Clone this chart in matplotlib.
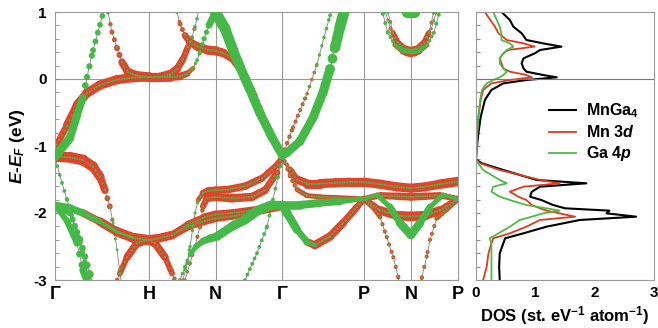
import numpy as np
import matplotlib
matplotlib.use('Agg')
import matplotlib.pyplot as plt
from matplotlib.collections import LineCollection
from matplotlib.ticker import MultipleLocator

plt.rcParams['font.family'] = ['Liberation Sans', 'DejaVu Sans']
plt.rcParams['font.weight'] = 'bold'
plt.rcParams['mathtext.fontset'] = 'custom'
plt.rcParams['mathtext.rm'] = 'Liberation Sans:bold'
plt.rcParams['mathtext.it'] = 'Liberation Sans:italic:bold'
plt.rcParams['mathtext.bf'] = 'Liberation Sans:bold'
plt.rcParams['axes.unicode_minus'] = False
plt.rcParams['lines.scale_dashes'] = False

# ---------------- high-symmetry path ----------------
kpath_labels = ['Γ', 'H', 'N', 'Γ', 'P', 'N', 'P']
kpath_pos = [0.0, 1.0, 1.7071, 2.4142, 3.2802, 3.7802, 4.2802]

# ---------------- bands: k, E, Mn-3d weight, Ga-4p weight ----------------
A_k = [0.0, 0.159, 0.234, 0.297, 0.340, 0.404, 0.478, 0.515]
A_E = [-1.16, -0.88, -0.54, -0.28, 0.03, 0.43, 0.81, 1.0]
A_r = [3, 2.5, 2, 1, 0, 0, 0, 0]
A_g = [7, 6.5, 6, 5.5, 5, 4.6, 4.4, 4.4]

B_k = [0.563, 0.605, 0.659, 0.712, 0.775, 0.871, 1.0, 1.115, 1.221, 1.296, 1.360, 1.413, 1.455, 1.487, 1.508, 1.522]
B_E = [1.0, 0.70, 0.46, 0.25, 0.10, 0.05, 0.03, 0.03, 0.07, 0.15, 0.30, 0.48, 0.62, 0.78, 0.9, 1.0]
B_r = [2.5, 2.8, 3.2, 4, 5, 5.5, 5.5, 5.5, 5, 4.5, 4, 3.5, 3, 2, 1.5, 1.5]
B_g = [1.5, 1.3, 1.3, 1.3, 1.3, 1.3, 1.3, 1.3, 1.3, 1.3, 1.3, 1.5, 2, 2.5, 2.5, 2.5]

D_k = [1.296, 1.328, 1.381, 1.434, 1.519, 1.625, 1.707, 1.784, 1.880, 1.965, 2.039, 2.124, 2.209, 2.315, 2.414]
D_E = [1.0, 0.82, 0.65, 0.55, 0.48, 0.43, 0.42, 0.39, 0.31, 0.15, 0.0, -0.25, -0.55, -0.9, -1.15]
D_r = [2, 2.5, 3.5, 4.5, 5, 5.5, 5.5, 5, 4.5, 4, 3.5, 3, 3, 2.5, 2.5]
D_g = [1.3] * 15

E_k = [0.0, 0.021, 0.127, 0.234, 0.340, 0.478, 0.659, 0.828, 1.0, 1.115, 1.221, 1.328, 1.402, 1.466, 1.508, 1.540, 1.583, 1.635, 1.700]
E_E = [-1.16, -0.98, -0.69, -0.39, -0.21, -0.09, -0.01, 0.02, 0.03, 0.03, 0.03, 0.04, 0.08, 0.16, 0.28, 0.40, 0.60, 0.80, 0.99]
E_r = [3, 3.5, 4.5, 5, 5.5, 5.5, 5.5, 5.5, 5.5, 5.5, 5, 4.5, 3.5, 2, 1, 0.5, 0, 0, 0]
E_g = [1.5, 1.5, 1.3, 1.3, 1.3, 1.3, 1.3, 1.3, 1.3, 1.3, 1.3, 1.3, 1.5, 2, 2.5, 3, 3.5, 4.5, 6]

W_k = [1.707, 1.806, 1.891, 1.965, 2.071, 2.177, 2.305, 2.414, 2.464, 2.602, 2.740, 2.847, 2.921, 2.974, 3.027, 3.070]
W_E = [0.99, 0.75, 0.43, 0.18, -0.16, -0.51, -0.87, -1.14, -1.1, -0.93, -0.58, -0.2, 0.15, 0.47, 0.78, 1.0]
W_r = [0] * 16
W_g = [9, 8.5, 8, 7.5, 7.5, 7, 7, 6.5, 6.5, 6.5, 7, 7, 7.5, 8, 8.5, 9]

X_k = [2.414, 2.528, 2.677, 2.783, 2.857, 2.921, 2.940]
X_E = [-1.15, -0.72, -0.22, 0.22, 0.62, 0.95, 1.0]
X_r = [2.8, 2.6, 2.4, 2.0, 1.0, 0, 0]
X_g = [1.3, 1.3, 1.5, 2.0, 2.5, 2.8, 2.8]

F_k = [0.0, 0.159, 0.297, 0.404, 0.478, 0.531, 0.584, 0.616, 0.659, 0.690, 0.700]
F_E = [-1.16, -1.17, -1.21, -1.31, -1.46, -1.66, -1.91, -2.15, -2.55, -2.9, -3.0]
F_r = [6, 6.5, 6.5, 6, 5, 4, 3, 2, 1, 0.5, 0.5]
F_g = [1.3, 1.3, 1.3, 1.3, 1.5, 1.5, 1.5, 2, 2, 2, 2]

G_k = [0.659, 0.690, 0.765, 0.871, 0.977, 1.0, 1.062, 1.168, 1.243, 1.275]
G_E = [-3.0, -2.9, -2.66, -2.45, -2.4, -2.4, -2.45, -2.66, -2.9, -3.0]
G_r = [2.5, 3, 4, 5, 5.5, 5.5, 5, 4, 3, 2.5]
G_g = [1.3] * 10

H_k = [0.0, 0.021, 0.159, 0.297, 0.478, 0.659, 0.828, 0.977, 1.0, 1.062, 1.243, 1.413, 1.593, 1.707, 1.880, 2.092, 2.262, 2.414]
H_E = [-1.9, -1.9, -1.93, -2.0, -2.13, -2.28, -2.37, -2.4, -2.4, -2.39, -2.33, -2.2, -2.12, -2.08, -2.05, -2.0, -1.95, -1.91]
H_r = [0, 0, 2, 4, 5, 5.5, 6, 6, 6, 5.5, 5, 4.5, 4.5, 4.5, 4, 4, 4, 4]
H_g = [7, 7, 6.5, 5, 3, 2, 1.5, 1.3, 1.3, 1.3, 1.3, 1.3, 1.3, 1.3, 1.3, 1.3, 1.3, 1.3]

I_k = [1.243, 1.413, 1.593, 1.707, 1.880, 2.092, 2.262, 2.414]
I_E = [-2.33, -2.17, -2.06, -2.02, -2.0, -1.96, -1.92, -1.9]
I_r = [4, 4, 4.5, 4.5, 4.5, 4.5, 4, 3.5]
I_g = [1.3] * 8

J1_k = [1.360, 1.402, 1.434, 1.466, 1.487, 1.519, 1.572, 1.625, 1.707, 1.837, 2.018, 2.199, 2.336, 2.414]
J1_E = [-3.0, -2.75, -2.5, -2.2, -2.0, -1.81, -1.7, -1.67, -1.66, -1.65, -1.6, -1.48, -1.31, -1.17]
J1_r = [0, 0, 0, 0, 1, 2, 3.5, 4.5, 4.5, 4.5, 4.5, 4, 3.5, 3]
J1_g = [2.5, 2.5, 2.5, 2.5, 2.3, 2, 1.5, 1.3, 1.3, 1.3, 1.3, 1.3, 1.3, 1.3]

J2_k = [1.381, 1.434, 1.487, 1.540, 1.572, 1.614, 1.699, 1.880, 2.092, 2.230, 2.358, 2.414]
J2_E = [-3.0, -2.75, -2.5, -2.2, -1.9, -1.78, -1.76, -1.78, -1.76, -1.66, -1.4, -1.17]
J2_r = [2, 2, 2.5, 2.5, 3, 4.5, 5, 5, 5, 4.5, 3.5, 3]
J2_g = [1.3] * 12

K_k = [1.328, 1.381, 1.434, 1.498, 1.572, 1.646, 1.721, 1.880, 2.018, 2.156, 2.305, 2.414]
K_E = [-3.0, -2.8, -2.62, -2.5, -2.42, -2.38, -2.35, -2.2, -2.1, -1.96, -1.88, -1.88]
K_r = [2, 2, 2, 1.5, 0, 0, 0, 0, 0, 0, 0, 0]
K_g = [2.2, 2.5, 3, 4, 5, 6, 6.5, 7, 7.5, 7.5, 7.5, 7]

L_k = [2.018, 2.145, 2.252, 2.315, 2.368, 2.414]
L_E = [-3.0, -2.6, -2.2, -1.8, -1.46, -1.17]
L_r = [0] * 6
L_g = [2.8] * 6

Y1_k = [0.0, 0.074, 0.127, 0.191, 0.266, 0.329, 0.361]
Y1_E = [-1.17, -1.55, -1.8, -2.1, -2.45, -2.8, -3.0]
Y1_r = [0] * 7
Y1_g = [2.5, 2.8, 3, 3.3, 3.6, 4, 4]

Y2_k = [0.0, 0.021, 0.127, 0.234, 0.297, 0.340]
Y2_E = [-1.9, -1.92, -2.12, -2.45, -2.85, -3.0]
Y2_r = [0] * 6
Y2_g = [4, 4, 4.5, 5, 5.5, 6]

Y3_k = [0.0, 0.021, 0.159, 0.266, 0.372, 0.390]
Y3_E = [-1.9, -1.92, -2.0, -2.4, -2.92, -3.0]
Y3_r = [0] * 6
Y3_g = [4, 4, 4.5, 5, 5.5, 6]

M_k = [2.414, 2.602, 2.815, 3.027, 3.240, 3.280]
M_E = [-1.88, -1.88, -1.85, -1.83, -1.79, -1.79]
M_r = [0, 0, 0, 1, 3, 3.5]
M_g = [7, 6.5, 6, 5, 3, 2]

N_k = [2.414, 2.464, 2.570, 2.677, 2.760, 2.921, 3.059, 3.208, 3.280]
N_E = [-1.88, -2.0, -2.25, -2.43, -2.48, -2.35, -2.15, -1.91, -1.79]
N_r = [0, 0, 2, 4, 5, 5, 4.5, 4, 3.5]
N_g = [7, 7, 6, 4, 2, 1.3, 1.3, 1.3, 1.3]

RA_k = [2.414, 2.496, 2.570, 2.677, 2.815, 2.974, 3.133, 3.280, 3.452, 3.632, 3.780, 3.930, 4.089, 4.280]
RA_E = [-1.17, -1.35, -1.5, -1.56, -1.56, -1.55, -1.54, -1.54, -1.57, -1.61, -1.63, -1.61, -1.57, -1.53]
RA_r = [2, 3, 4.5, 5.5, 5.5, 5.5, 5.5, 5.5, 5.5, 5.5, 5.5, 5.5, 5.5, 6]
RA_g = [1.3] * 14

RB_k = [2.414, 2.496, 2.570, 2.677, 2.815, 2.974, 3.133, 3.280, 3.452, 3.632, 3.780, 3.930, 4.089, 4.280]
RB_E = [-1.17, -1.45, -1.65, -1.74, -1.76, -1.77, -1.78, -1.79, -1.74, -1.75, -1.76, -1.75, -1.74, -1.79]
RB_r = [2, 2.5, 3, 3, 3, 3, 3, 3, 4, 4.5, 4.5, 4.5, 4, 3]
RB_g = [1.3] * 14

S_k = [3.280, 3.420, 3.558, 3.664, 3.780, 3.877, 3.983, 4.121, 4.280]
S_E = [-1.79, -1.73, -1.91, -2.15, -2.33, -2.15, -1.91, -1.73, -1.79]
S_r = [3, 2.5, 1, 0, 0, 0, 1, 2.5, 3]
S_g = [2, 3, 4.5, 6, 7, 6, 4.5, 3, 2]

T_k = [3.280, 3.452, 3.632, 3.780, 3.930, 4.089, 4.280]
T_E = [-1.79, -1.96, -2.04, -2.05, -2.04, -1.96, -1.79]
T_r = [3, 5, 5.5, 6, 5.5, 5, 3]
T_g = [1.3] * 7

U1_k = [3.280, 3.378, 3.452, 3.523, 3.593, 3.646, 3.650]
U1_E = [-1.79, -1.92, -2.06, -2.36, -2.66, -2.96, -3.0]
U1_r = [3, 2.8, 2.6, 2.5, 2.5, 2.5, 2.5]
U1_g = [1.3] * 7

U2_k = [4.280, 4.160, 4.054, 3.983, 3.948, 3.895, 3.890]
U2_E = [-1.79, -1.95, -2.08, -2.4, -2.65, -2.97, -3.0]
U2_r = [3, 2.8, 2.6, 2.5, 2.5, 2.5, 2.5]
U2_g = [1.3] * 7

Pa_k = [3.537, 3.590, 3.664, 3.738, 3.780, 3.822, 3.896, 3.970, 4.023]
Pa_E = [1.0, 0.69, 0.48, 0.40, 0.39, 0.40, 0.48, 0.69, 1.0]
Pa_r = [2, 2.5, 4, 5, 5, 5, 4, 2.5, 2]
Pa_g = [1.5, 1.5, 1.3, 1.3, 1.3, 1.3, 1.3, 1.5, 1.5]

Pb_k = [3.483, 3.536, 3.610, 3.695, 3.780, 3.865, 3.950, 4.024, 4.077]
Pb_E = [0.97, 0.69, 0.51, 0.41, 0.39, 0.41, 0.51, 0.69, 0.97]
Pb_r = [0, 1, 2.5, 3.5, 4, 3.5, 2.5, 1, 0]
Pb_g = [3, 3, 2.5, 2, 2, 2, 2.5, 3, 3]

Pc_k = [3.510, 3.563, 3.637, 3.716, 3.780, 3.844, 3.923, 3.997, 4.050]
Pc_E = [1.0, 0.75, 0.55, 0.45, 0.43, 0.45, 0.55, 0.75, 1.0]
Pc_r = [1.5, 2, 3, 4, 4, 4, 3, 2, 1.5]
Pc_g = [1.5] * 9

V_k = [3.74, 3.82]
V_E = [0.985, 0.985]
V_r = [0, 0]
V_g = [8, 8]

BANDS = [
    (A_k, A_E, A_r, A_g), (B_k, B_E, B_r, B_g), (D_k, D_E, D_r, D_g),
    (E_k, E_E, E_r, E_g), (W_k, W_E, W_r, W_g), (X_k, X_E, X_r, X_g),
    (F_k, F_E, F_r, F_g), (G_k, G_E, G_r, G_g), (H_k, H_E, H_r, H_g),
    (I_k, I_E, I_r, I_g), (J1_k, J1_E, J1_r, J1_g), (J2_k, J2_E, J2_r, J2_g),
    (K_k, K_E, K_r, K_g), (L_k, L_E, L_r, L_g), (Y1_k, Y1_E, Y1_r, Y1_g),
    (Y2_k, Y2_E, Y2_r, Y2_g), (Y3_k, Y3_E, Y3_r, Y3_g), (M_k, M_E, M_r, M_g),
    (N_k, N_E, N_r, N_g), (RA_k, RA_E, RA_r, RA_g), (RB_k, RB_E, RB_r, RB_g),
    (S_k, S_E, S_r, S_g), (T_k, T_E, T_r, T_g), (U1_k, U1_E, U1_r, U1_g),
    (U2_k, U2_E, U2_r, U2_g), (Pa_k, Pa_E, Pa_r, Pa_g), (Pb_k, Pb_E, Pb_r, Pb_g),
    (Pc_k, Pc_E, Pc_r, Pc_g), (V_k, V_E, V_r, V_g),
]

# ---------------- DOS ----------------
dos_E = [1.0, 0.881, 0.781, 0.682, 0.582, 0.532, 0.483, 0.433, 0.383, 0.308, 0.234,
         0.159, 0.109, 0.060, 0.025, -0.015, -0.065, -0.164, -0.313, -0.562, -0.811,
         -1.06, -1.2, -1.259, -1.358, -1.507, -1.557, -1.607, -1.682, -1.756, -1.806,
         -1.881, -1.930, -1.965, -2.005, -2.055, -2.104, -2.204, -2.303, -2.378,
         -2.453, -2.602, -2.801, -3.0]
dos_total = [0.43, 0.57, 0.63, 0.77, 0.85, 1.13, 1.44, 1.08, 0.99, 0.80, 0.77, 0.80,
             0.85, 1.13, 1.36, 0.85, 0.46, 0.26, 0.15, 0.08, 0.04, 0.01, 0.0, 0.10,
             0.46, 1.02, 1.86, 1.08, 0.94, 0.91, 1.10, 1.30, 1.50, 2.25, 2.20, 2.70,
             1.75, 1.19, 0.80, 0.49, 0.46, 0.40, 0.39, 0.40]
dos_mn3d = [0.15, 0.24, 0.32, 0.38, 0.52, 0.80, 0.99, 0.54, 0.46, 0.40, 0.43, 0.46,
            0.57, 0.85, 0.94, 0.57, 0.26, 0.12, 0.08, 0.04, 0.02, 0.01, 0.0, 0.07,
            0.40, 1.08, 1.41, 0.80, 0.57, 0.71, 0.85, 0.94, 1.08, 1.19, 1.41, 1.67,
            1.08, 0.85, 0.57, 0.29, 0.26, 0.21, 0.18, 0.12]
dos_ga4p = [0.29, 0.35, 0.40, 0.43, 0.43, 0.57, 0.63, 0.52, 0.46, 0.40, 0.40, 0.46,
            0.52, 0.46, 0.40, 0.29, 0.18, 0.10, 0.07, 0.04, 0.02, 0.01, 0.0, 0.04,
            0.12, 0.40, 0.52, 0.29, 0.26, 0.40, 0.57, 0.85, 1.19, 1.41, 1.13, 0.94,
            0.74, 0.57, 0.38, 0.23, 0.26, 0.26, 0.26, 0.26]
dos_labels = ['MnGa$_4$', 'Mn 3$d$', 'Ga 4$p$']

# ---------------- style ----------------
RED = '#E2432B'
GREEN = '#45B947'
GRID = '#9a9a9a'
RED_SCALE = 1.2
GREEN_SCALE = 0.85
GREEN_MIN = 0.45
DK_PX = 2.4        # k-sampling of the fat-band dots, in pixels
DPI = 100

fig = plt.figure(figsize=(6.58, 3.28), dpi=DPI)
ax = fig.add_axes([55 / 658, 1 - 280 / 328, (458 - 55) / 658, (280 - 12) / 328])
ax2 = fig.add_axes([476 / 658, 1 - 280 / 328, (654 - 476) / 658, (280 - 12) / 328])
ax.set_xlim(kpath_pos[0], kpath_pos[-1])
ax.set_ylim(-3, 1)


def fat_collection(k, e, w, color, z, scale, offset):
    k = np.asarray(k, float)
    e = np.asarray(e, float)
    w = np.asarray(w, float)
    pts = np.column_stack([k, e])
    pix = ax.transData.transform(pts)
    segs, lws, styles = [], [], []
    for i in range(len(k) - 1):
        wm = 0.5 * (w[i] + w[i + 1])
        if wm <= 0.05:
            continue
        lw = wm * scale + offset
        dx = abs(pix[i + 1, 0] - pix[i, 0])
        L = np.hypot(pix[i + 1, 0] - pix[i, 0], pix[i + 1, 1] - pix[i, 1])
        spacing = DK_PX * L / max(dx, 1e-6)
        lw_px = lw * DPI / 72
        segs.append(pts[i:i + 2])
        lws.append(lw)
        if spacing < 1.05 * lw_px:
            styles.append('solid')
        else:
            styles.append((0, (0.01, spacing * 72 / DPI)))
    if not segs:
        return
    lc = LineCollection(segs, linewidths=lws, colors=color, linestyles=styles,
                        capstyle='round', joinstyle='round', zorder=z)
    ax.add_collection(lc)


for k, e, r, g in BANDS:
    ax.plot(k, e, color='#808080', lw=0.6, zorder=1)
    fat_collection(k, e, r, RED, 2, RED_SCALE, 0.0)
for k, e, r, g in BANDS:
    fat_collection(k, e, g, GREEN, 3, GREEN_SCALE, GREEN_MIN)

for x in kpath_pos[1:-1]:
    ax.axvline(x, color=GRID, lw=0.8, zorder=0.5)
ax.axhline(0, color=GRID, lw=0.8, zorder=0.5)

ax.set_xticks(kpath_pos)
ax.set_xticklabels(kpath_labels, fontsize=13, fontweight='bold')
ax.set_yticks([-3, -2, -1, 0, 1])
ax.set_yticklabels(['-3', '-2', '-1', '0', '1'], fontsize=11, fontweight='bold')
ax.yaxis.set_minor_locator(MultipleLocator(0.2))
ax.tick_params(axis='x', length=0, pad=4)
ax.tick_params(axis='y', which='both', direction='in', length=3, color='#888888', pad=6)
ax.set_ylabel('$E$-$E_F$ (eV)', fontsize=12.5, fontweight='bold', labelpad=4)
for s in ax.spines.values():
    s.set_color(GRID)
    s.set_linewidth(0.8)

# DOS panel
ax2.plot(dos_total, dos_E, color='black', lw=1.5, label=dos_labels[0])
ax2.plot(dos_mn3d, dos_E, color='#E0391F', lw=1.3, label=dos_labels[1])
ax2.plot(dos_ga4p, dos_E, color='#4DBA45', lw=1.3, label=dos_labels[2])
ax2.axhline(0, color='#777777', lw=0.8)
ax2.set_xlim(0, 3)
ax2.set_ylim(-3, 1)
ax2.set_xticks([0, 1, 2, 3])
ax2.set_xticklabels(['0', '1', '2', '3'], fontsize=11, fontweight='bold')
ax2.set_yticks(np.arange(-3, 1.01, 0.2))
ax2.set_yticklabels([])
ax2.tick_params(axis='y', direction='in', length=3, color='#888888')
ax2.tick_params(axis='x', direction='in', length=0, pad=4)
ax2.set_xlabel('DOS (st. eV$^{-1}$ atom$^{-1}$)', fontsize=12, fontweight='bold', labelpad=3)
for s in ax2.spines.values():
    s.set_color(GRID)
    s.set_linewidth(0.8)
leg = ax2.legend(loc='center left', bbox_to_anchor=(0.41, 0.55), frameon=False,
                 prop={'weight': 'bold', 'size': 11.5}, handlelength=1.7,
                 handletextpad=0.6, labelspacing=0.25, borderpad=0, borderaxespad=0)

fig.savefig('out.png', dpi=DPI)
